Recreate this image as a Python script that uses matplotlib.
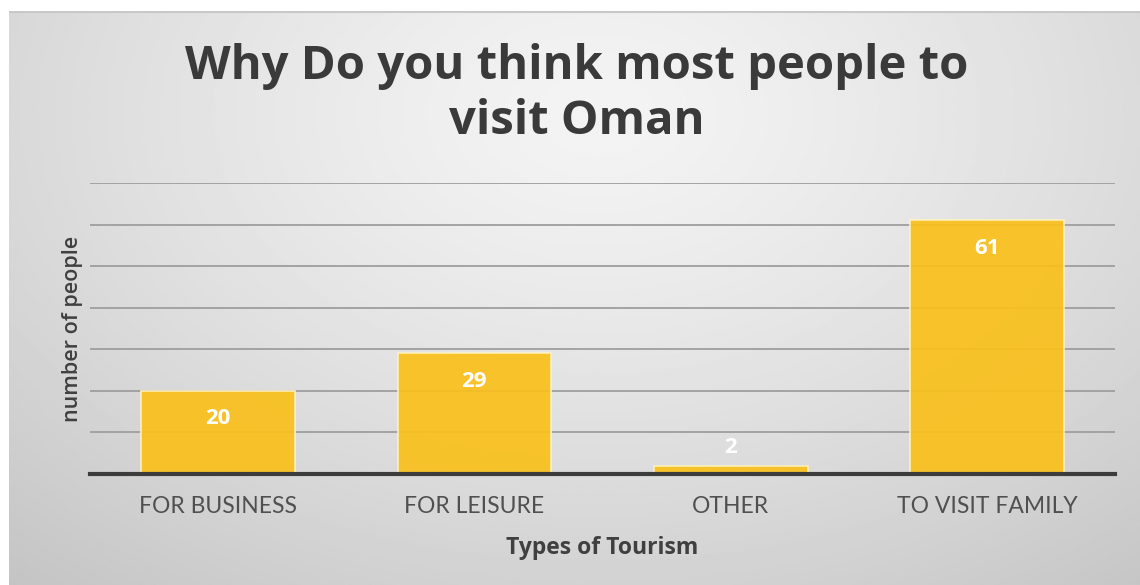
import numpy as np
import matplotlib.pyplot as plt

plt.rcParams["font.family"] = ["Open Sans", "DejaVu Sans"]

# survey answers
categories = ["FOR BUSINESS", "FOR LEISURE", "OTHER", "TO VISIT FAMILY"]
counts = [20, 29, 2, 61]

title = "Why Do you think most people to\nvisit Oman"
x_label = "Types of Tourism"
y_label = "number of people"

W, H = 1140, 585
fig = plt.figure(figsize=(W / 100, H / 100), dpi=100)
fig.patch.set_facecolor("white")

# grey radial backdrop of the chart area
bg = fig.add_axes([9 / W, 0, 1 - 9 / W, (H - 11) / H], zorder=-5)
gx, gy = np.meshgrid(np.linspace(0, 1, 400), np.linspace(0, 1, 300))
r = np.sqrt(((gx - 0.52) / 0.75) ** 2 + ((gy - 0.18) / 1.0) ** 2)
shade = 0.955 - 0.17 * np.clip(r, 0, 1.2) ** 1.3
bg.imshow(shade, cmap="gray", vmin=0, vmax=1, aspect="auto",
          extent=[0, 1, 1, 0], interpolation="bilinear")
bg.set_axis_off()
bg.plot([0, 1], [0.0015, 0.0015], color="#c8c8c8", lw=1.5)

ax = fig.add_axes([90 / W, (H - 474) / H, 1025 / W, (474 - 183) / H])
ax.set_facecolor("none")

x = np.arange(len(categories))
bars = ax.bar(x, counts, width=0.6, color="#f9c01c", alpha=0.93,
              edgecolor="#fff2c0", linewidth=1.2, zorder=3)

for xi, v in zip(x, counts):
    # small bars get their label above the bar
    dy = -20 if v > 5 else 13
    ax.annotate(str(v), (xi, v), xytext=(0, dy), textcoords="offset points",
                ha="center", va="center", color="white", fontsize=16,
                fontweight="bold", zorder=4)

ax.set_xlim(-0.5, 3.5)
ax.set_ylim(0, 70)
ax.set_yticks(np.arange(10, 71, 10))
ax.yaxis.grid(True, color="#9e9e9e", linewidth=1.3, zorder=1)
ax.tick_params(axis="y", left=False, labelleft=False)
ax.tick_params(axis="x", bottom=False, labelsize=16.5, labelcolor="#505050", pad=12)
ax.set_xticks(x)
ax.set_xticklabels(categories, family=["Lato", "DejaVu Sans"])
for s in ["top", "right", "left"]:
    ax.spines[s].set_visible(False)
ax.spines["bottom"].set_color("#3c3c3c")
ax.spines["bottom"].set_linewidth(3)
ax.spines["bottom"].set_zorder(5)

ax.set_xlabel(x_label, fontsize=16.5, fontweight="bold", color="#404040", labelpad=14)
ax.set_ylabel(y_label, fontsize=15.5, fontweight="semibold", color="#404040", labelpad=5)

fig.text(0.506, (H - 94) / H, title, ha="center", va="center",
         fontsize=34, fontweight="bold", color="#3a3a3a", linespacing=1.24)

fig.savefig("out.png", dpi=100)
